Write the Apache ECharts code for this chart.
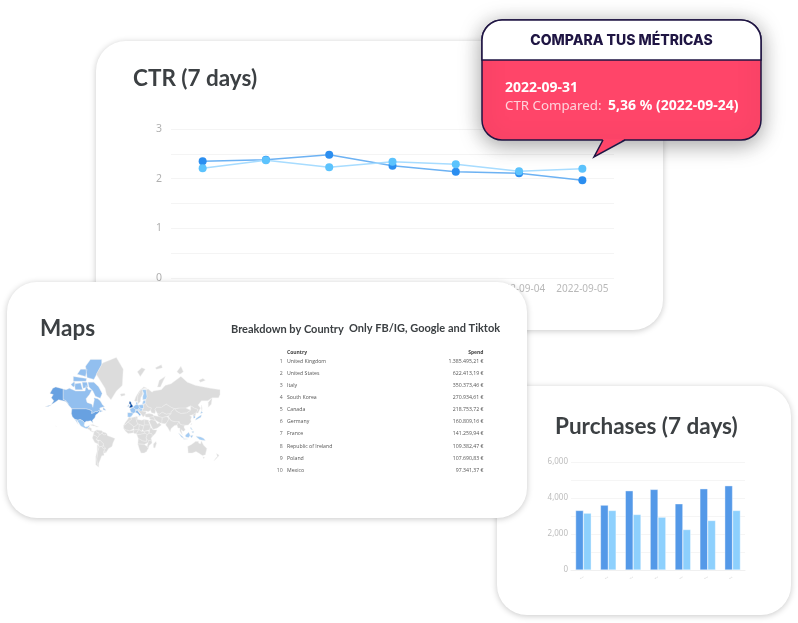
<!DOCTYPE html>
<html>
<head>
<meta charset="utf-8">
<script src="https://cdn.jsdelivr.net/npm/echarts@6/dist/echarts.min.js"></script>
<style>
  html, body { margin: 0; padding: 0; background: #fff; }
  #chart { width: 798px; height: 623px; }
</style>
</head>
<body>
<div id="chart"></div>
<script>
// CTR (7 days)
const ctrDates = ['2022-08-30', '2022-08-31', '2022-09-01', '2022-09-02', '2022-09-03', '2022-09-04', '2022-09-05']
const ctrCurrent = [2.35, 2.38, 2.48, 2.26, 2.14, 2.11, 1.97]
const ctrCompared = [2.21, 2.37, 2.23, 2.34, 2.29, 2.15, 2.2]

// Purchases (7 days)
const purchaseDates = ctrDates
const purchasesCurrent = [3307, 3604, 4403, 4477, 3678, 4514, 4681]
const purchasesCompared = [3158, 3307, 3084, 2935, 2248, 2749, 3307]

// Maps table
const countries = ['United Kingdom', 'United States', 'Italy', 'South Korea', 'Canada', 'Germany', 'France', 'Republic of Ireland', 'Poland', 'Mexico']
const spendValues = [1385495.21, 622413.19, 350373.46, 270934.61, 218753.72, 160809.16, 141259.94, 109382.47, 107690.83, 97341.37]
const spendLabels = ['1.385.495,21 €', '622.413,19 €', '350.373,46 €', '270.934,61 €', '218.753,72 €', '160.809,16 €', '141.259,94 €', '109.382,47 €', '107.690,83 €', '97.341,37 €']

// countries below the top 10 that are still tinted on the map (estimated)
const otherCountries = ['Spain', 'Japan', 'Indonesia', 'New Guinea', 'Finland', 'Baltics', 'Austria', 'Czechia', 'Denmark', 'Philippines']
const otherSpend = [90000, 85000, 60000, 45000, 55000, 50000, 60000, 55000, 50000, 45000]

// rough country outlines, [lon, lat]
const outlines = {
  'Canada': [[[-141,69.6],[-135,69],[-128,70],[-115,68],[-108,68],[-96,68],[-94,72],[-89,69],[-82,69],[-87,65],[-94,61],[-92,57],[-82,55],[-80,51],[-79,55],[-77,60],[-78,62],[-70,61],[-65,59],[-60,54],[-56,52],[-66,50],[-65,47],[-60,46],[-66,44],[-67,47],[-71,45],[-75,45],[-79,43],[-83,42],[-82,46],[-88,48],[-95,49],[-123,49],[-130,54],[-135,59],[-141,60]],
    [[-90,74],[-78,74],[-68,71],[-61,66],[-65,61.5],[-75,63.5],[-80,68],[-88,71]], [[-118,73],[-105,73.5],[-101,69],[-116,69]], [[-92,76.5],[-78,75.5],[-62,81.5],[-62,83],[-85,83],[-95,81]], [[-125,72.5],[-118,74.3],[-116,72],[-120,71]], [[-120,74.5],[-94,74.5],[-93,76],[-120,77]], [[-112,78],[-95,77],[-92,80],[-105,80]], [[-102,74],[-92,74],[-90,71],[-100,70]], [[-59,51],[-53,47],[-59,47.5]]],
  'United States': [[[-123,49],[-95,49],[-88,48],[-82,46],[-83,42],[-79,43],[-75,45],[-71,45],[-67,47],[-67,45],[-70,42],[-74,40],[-76,35],[-81,31],[-80,25],[-82,28],[-85,30],[-90,29],[-94,29],[-97,26],[-101,30],[-106,32],[-111,31],[-117,32.5],[-122,37],[-124,42]],
    [[-141,69.6],[-141,60],[-135,59],[-130,55],[-135,58],[-150,60],[-158,57],[-165,54.5],[-160,59],[-165,62],[-161,65],[-168,66],[-162,70],[-156,71]], [[-178,52],[-165,54],[-170,52.5]], [[-156,20],[-155,19],[-156,19]]],
  'Mexico': [[[-117,32.5],[-111,31],[-106,32],[-101,30],[-97,26],[-98,21],[-95,18],[-91,19],[-87,21.5],[-88,18],[-92,14.5],[-97,16],[-105,20],[-109,26],[-113,31],[-112,27],[-110,23],[-115,30]]],
  'Central America': [[[-92,14.5],[-88,18],[-88,16],[-83,15],[-83,10],[-77.5,8.5],[-80,7.5],[-85,10],[-87.5,13]]],
  'Cuba': [[[-85,22],[-80,23],[-74,20],[-78,20]]],
  'Hispaniola': [[[-74,19.8],[-68.5,18.5],[-74,18]]],
  'Colombia': [[[-77.5,8.5],[-72,12],[-72,7],[-67.5,6],[-67,1],[-70,-4],[-75,0],[-79,1.5]]],
  'Venezuela': [[[-72,12],[-62,10.5],[-60,8],[-61,5],[-67,1],[-67.5,6],[-72,7]]],
  'Guianas': [[[-60,8],[-52,5],[-54,2],[-58,1.5],[-61,5]]],
  'Brazil': [[[-52,5],[-50,0],[-44,-2.5],[-35,-6],[-39,-15],[-41,-22],[-48,-26],[-53,-33.5],[-57.5,-30],[-54,-25.5],[-58,-22],[-58,-17],[-65,-10],[-74,-8],[-70,-4],[-67,1],[-61,5],[-58,1.5],[-54,2]]],
  'Peru': [[[-79,1.5],[-75,0],[-70,-4],[-74,-8],[-69,-11],[-69,-17],[-71,-18],[-76,-14],[-81,-5]]],
  'Bolivia': [[[-69,-11],[-65,-10],[-58,-17],[-58,-20],[-62,-22],[-67,-23],[-69,-17]]],
  'Paraguay': [[[-58,-20],[-58,-22],[-54,-25.5],[-58,-27],[-62,-22]]],
  'Chile': [[[-71,-18],[-69,-17],[-67,-23],[-70,-32],[-72,-45],[-70,-52],[-68,-55],[-74,-52],[-74,-40],[-71,-30]]],
  'Argentina': [[[-67,-23],[-62,-22],[-58,-27],[-54,-25.5],[-57.5,-30],[-58,-34],[-57,-38],[-62,-39],[-65,-45],[-68,-50],[-68,-55],[-70,-52],[-72,-45],[-70,-32]]],
  'Uruguay': [[[-57.5,-30],[-53,-33.5],[-58,-34]]],
  'Greenland': [[[-73,78],[-60,82],[-32,83.5],[-18,80],[-20,72],[-32,68],[-43,60],[-52,65],[-55,70]]],
  'Iceland': [[[-24,65.5],[-15,66],[-14,64.5],[-22,63.5]]],
  'United Kingdom': [[[-5.5,50],[1.5,51],[1.7,53],[-1.5,55.5],[-2,57.5],[-5,58.5],[-6,56],[-3,54],[-5,52]]],
  'Republic of Ireland': [[[-10,52],[-6,52],[-6,55],[-8,55.3]]],
  'France': [[[-4.5,48.5],[2,51],[8,49],[7,44],[3,42.5],[-1.5,43.5]]],
  'Spain': [[[-9,43.5],[-1.5,43.5],[3,42],[0,39],[-2,37],[-5.5,36],[-9,37]]],
  'Germany': [[[2,51],[4,52.5],[8.5,54.5],[14,54],[15,51],[13,48],[8,48],[8,49]]],
  'Italy': [[[7,44],[8,46.5],[13,46.5],[13,45],[18,40],[16,38],[12,42]], [[12.5,38],[15.5,38],[15,36.7]]],
  'Austria': [[[8,48],[13,48],[17,48],[13,46.5],[8,46.5]]],
  'Poland': [[[14,54],[23,54.5],[24,50],[19,49],[15,51]]],
  'Czechia': [[[13,48],[15,51],[19,49],[22,48.5],[21,46],[17,46],[13,46.5],[17,48]]],
  'Balkans': [[[13,46.5],[17,46],[21,46],[29,45],[28,41],[26,41],[23,36.5],[19,41],[14,45]]],
  'Ukraine': [[[24,50],[23,54.5],[28,56],[32,52],[40,50],[38,47],[33,45],[30,46],[29,45],[21,46],[22,48.5]]],
  'Norway': [[[5,59],[8,58],[11,59],[12,64],[18,69],[25,70],[31,70],[24,71],[15,68],[8,63]]],
  'Sweden': [[[11,59],[13,55.5],[17,58],[18,62],[22,65.5],[24,66],[21,69],[18,69],[12,64]]],
  'Finland': [[[21,69],[24,66],[22,63],[22,60],[30,60.5],[31,63],[29,69]]],
  'Baltics': [[[21,55],[23,54.5],[28,56],[28,59.5],[23,59]]],
  'Denmark': [[[8.5,54.5],[12,54.5],[10.5,57.5],[8,57]]],
  'Turkey': [[[26,41],[28,41],[35,42],[42,41],[44,39],[44,37],[36,36],[28,36.5],[26,38]]],
  'Russia': [[[28,56],[28,59.5],[30,60.5],[31,63],[29,69],[33,69.5],[41,67],[44,68],[60,69],[68,72],[80,73],[100,77],[113,74],[130,72],[160,70],[180,69],[180,65],[177,62],[164,62],[162,55],[156,51],[156,57],[164,62],[155,59],[142,59],[135,54],[140,50],[135,43],[131,43],[135,48],[127,50],[120,53],[110,50],[98,50],[87,49],[80,51],[70,55],[60,51],[50,51],[47,48],[48,46],[47,42],[40,43.5],[38,47],[40,50],[32,52]],
    [[52,71],[56,75],[68,77],[58,71]], [[142,54],[143.5,50],[143,46],[142,50]], [[48,80.5],[60,81.5],[62,80.5],[50,80]], [[92,79],[100,81],[105,79],[98,78]], [[137,75],[145,76],[150,75],[140,74]]],
  'Svalbard': [[[11,79],[20,80.5],[27,80],[17,77]]],
  'Kazakhstan': [[[47,48],[50,51],[60,51],[70,55],[80,51],[87,49],[80,45],[80,42],[70,41],[62,44],[56,41],[52,42],[50,45],[48,46]]],
  'Mongolia': [[[87,49],[98,50],[110,50],[120,47],[112,43],[100,42],[92,45]]],
  'China': [[[80,42],[80,45],[87,49],[92,45],[100,42],[112,43],[120,47],[120,53],[127,50],[135,48],[131,43],[124,40],[118,39],[122,37],[120,32],[121,28],[115,22],[108,21.5],[102,22],[98,24],[97,28],[88,28],[80,30],[74,38]]],
  'Central Asia': [[[52,42],[56,41],[62,44],[70,41],[80,42],[74,38],[70,37],[62,35.5],[54,37.5]]],
  'Iran': [[[44,39],[54,37.5],[62,35.5],[61,25],[57,26],[50,30],[46,33],[44,37]]],
  'Pakistan': [[[62,35.5],[70,37],[74,36],[75,32],[70,25],[67,24.5],[61,25]]],
  'India': [[[74,36],[80,30],[88,28],[96,28],[92,22],[87,21],[80,15],[78,8],[73,17],[69,22],[70,25],[75,32]]],
  'Indochina': [[[96,28],[98,24],[102,22],[108,21.5],[106,18],[109,12],[105,9],[100,13],[103,2],[100,6],[98,10],[98,16],[94,16],[92,22]]],
  'Iraq': [[[36,36],[44,37],[46,33],[48,30],[39,32],[36,33]]],
  'Saudi Arabia': [[[35,29],[39,32],[48,30],[52,24],[56,26],[60,22],[52,16],[43,13],[39,21]]],
  'South Korea': [[[126,38],[129,38],[129,35],[126,34.5]]],
  'North Korea': [[[124,40],[131,43],[129,38],[126,38]]],
  'Japan': [[[130,31],[136,34],[141,36],[142,40],[140,41],[136,37],[131,34]], [[140,42],[145,43.5],[142,45.5]]],
  'Taiwan': [[[120,23],[122,25],[121,22]]],
  'Philippines': [[[120,18],[122,18],[124,12],[120,14]], [[122,8],[126,9],[126,6],[123,6.5]]],
  'Indonesia': [[[95,5.5],[104,-2],[106,-6],[101,-3]], [[105,-6.5],[114,-7],[114,-8.5],[106,-7.5]], [[109,1],[116,7],[119,1],[116,-4],[110,-3]], [[119,0],[125,1],[122,-5],[120,-5]]],
  'New Guinea': [[[131,-1],[141,-3],[147,-6],[150,-10],[141,-9],[138,-8],[133,-4]]],
  'Australia': [[[114,-22],[122,-18],[130,-12],[136,-12],[136,-15],[140,-17],[142,-11],[146,-19],[153,-26],[150,-37],[144,-38.5],[138,-35],[131,-31.5],[123,-34],[115,-34]], [[145,-41],[148,-41],[147,-43.5]]],
  'New Zealand': [[[173,-35],[178,-38],[175,-41.5]], [[173,-41],[168,-46.5],[170,-46],[174,-42]]],
  'Madagascar': [[[49,-12],[50,-16],[47,-25],[44,-24],[44,-17]]],
  'Morocco': [[[-6,36],[-2,35],[-1,32],[-8,27.5],[-13,23],[-17,21],[-13,27.5],[-10,31]]],
  'Algeria': [[[-2,35],[8,37],[9,30],[12,24],[6,19],[3,19],[-8,27.5],[-1,32]]],
  'Tunisia': [[[8,37],[11,37],[11,32],[9,30]]],
  'Libya': [[[11,32],[20,31],[25,32],[25,20],[24,19.5],[15,23],[12,24],[9,30]]],
  'Egypt': [[[25,32],[34,31],[34,28],[37,22],[25,22]]],
  'Sudan': [[[25,22],[37,22],[38,18],[36,12],[34,10],[24,9],[22,13],[24,19.5]]],
  'South Sudan': [[[24,9],[34,10],[35,5],[31,2],[27,5]]],
  'Mali': [[[-17,21],[-13,23],[-8,27.5],[3,19],[4,15],[-5,10],[-12,12],[-17,15]]],
  'Niger': [[[3,19],[6,19],[12,24],[15,23],[14,13],[4,12],[4,15]]],
  'Chad': [[[15,23],[24,19.5],[22,13],[19,9],[14,13]]],
  'West Africa': [[[-17,15],[-12,12],[-5,10],[4,12],[3,6],[-4,5],[-8,4.5],[-13,9]]],
  'Nigeria': [[[3,6],[4,12],[14,13],[9,4.5],[5,4.5]]],
  'Cameroon': [[[9,4.5],[14,13],[19,9],[24,9],[27,5],[18,3],[10,2]]],
  'Ethiopia': [[[36,12],[38,18],[43,12],[51,12],[48,5],[41,-2],[41,4],[35,5]]],
  'DR Congo': [[[10,2],[18,3],[27,5],[31,2],[29,-4],[30,-12],[22,-11],[13,-6]]],
  'Tanzania': [[[31,2],[35,5],[41,4],[41,-2],[39,-6],[40,-10.5],[34,-10],[30,-8],[29,-4]]],
  'Angola': [[[13,-6],[22,-11],[30,-12],[30,-8],[34,-10],[33,-14],[25,-18],[12,-17]]],
  'Mozambique': [[[40,-10.5],[41,-15],[35,-20],[33,-26],[31,-22],[33,-14],[34,-10]]],
  'South Africa': [[[12,-17],[25,-18],[31,-22],[33,-26],[30,-31],[25,-34],[18.5,-34],[15,-27]]]
}

const worldGeo = {
  type: 'FeatureCollection',
  features: Object.keys(outlines).map(name => ({
    type: 'Feature',
    properties: { name },
    geometry: { type: 'MultiPolygon', coordinates: outlines[name].map(r => [r.concat([r[0]])]) }
  }))
}
echarts.registerMap('world', worldGeo)

const mercator = {
  project: p => [p[0], -Math.log(Math.tan(Math.PI / 4 + p[1] * Math.PI / 360)) * 180 / Math.PI],
  unproject: p => [p[0], (2 * Math.atan(Math.exp(-p[1] * Math.PI / 180)) - Math.PI / 2) * 180 / Math.PI]
}

const myChart = echarts.init(document.getElementById('chart'))

const ink = '#3c4043'
const titleFont = 'Lato'
const bodyFont = '"Noto Sans"'

function card(x, y, w, h, zlevel) {
  return {
    type: 'rect', zlevel, z: 0,
    shape: { x, y, width: w, height: h, r: 30 },
    style: { fill: '#fff', shadowBlur: 6, shadowColor: 'rgba(0,0,0,0.22)', shadowOffsetY: 1 }
  }
}

function label(text, x, y, font, fill, zlevel, align) {
  return {
    type: 'text', zlevel, z: 3,
    style: { text, x, y, font, fill, textAlign: align || 'left', textVerticalAlign: 'middle' }
  }
}

const elements = [
  card(96, 41, 567, 289, 0),
  label('CTR (7 days)', 133, 79, '700 22.5px ' + titleFont, ink, 0),

  card(497, 386, 294, 229, 1),
  label('Purchases (7 days)', 555, 427, '700 22.5px ' + titleFont, ink, 1),

  card(7, 282, 520, 236, 2),
  label('Maps', 40, 329, '700 22.5px ' + titleFont, ink, 2),
  label('Breakdown by Country', 231, 329, '700 11px ' + titleFont, ink, 2),
  label('Only FB/IG, Google and Tiktok', 349, 328, '700 11px ' + titleFont, ink, 2),
  label('Country', 287, 353, '700 5px "Open Sans"', '#444', 2),
  label('Spend', 483.5, 353, '700 5px "Open Sans"', '#444', 2, 'right')
]

countries.forEach((name, i) => {
  const y = 361.7 + i * 12.05
  elements.push(label(String(i + 1), 282.7, y, '5.2px "Open Sans"', '#666', 2, 'right'))
  elements.push(label(name, 287, y, '5.2px "Open Sans"', '#555', 2))
  elements.push(label(spendLabels[i], 483.5, y, '5.2px "Open Sans"', '#555', 2, 'right'))
})

// callout on top of everything
const calloutInk = '#1f1543'
elements.push(
  {
    type: 'rect', zlevel: 3, z: 0,
    shape: { x: 482, y: 20, width: 279, height: 120, r: 20 },
    style: { fill: '#ff4569', stroke: calloutInk, lineWidth: 1.5, shadowBlur: 22, shadowColor: 'rgba(0,0,0,0.38)', shadowOffsetY: 4 }
  },
  {
    type: 'polygon', zlevel: 3, z: 1,
    shape: { points: [[603, 139], [594, 157], [625, 139]] },
    style: { fill: '#ff4569' }
  },
  {
    type: 'polyline', zlevel: 3, z: 1,
    shape: { points: [[603, 140], [594, 157], [625, 140]] },
    style: { fill: 'none', stroke: calloutInk, lineWidth: 1.5 }
  },
  {
    type: 'rect', zlevel: 3, z: 1,
    shape: { x: 482, y: 20, width: 279, height: 40, r: [20, 20, 0, 0] },
    style: { fill: '#fff', stroke: calloutInk, lineWidth: 1.5 }
  },
  label('COMPARA TUS MÉTRICAS', 621.5, 41, '800 14px Inter', calloutInk, 3, 'center'),
  label('2022-09-31', 505, 88, '700 14px ' + bodyFont, '#fff', 3),
  label('CTR Compared:', 505, 106.5, '400 13.3px ' + bodyFont, '#ffd3db', 3),
  label('5,36 % (2022-09-24)', 608, 106.5, '700 14px ' + bodyFont, '#fff', 3)
)

const mapData = countries.map((name, i) => ({ name, value: spendValues[i] }))
  .concat(otherCountries.map((name, i) => ({ name, value: otherSpend[i] })))

const option = {
  animation: false,
  graphic: { elements },
  grid: [
    { left: 171, top: 129, width: 443, height: 149 },
    { left: 571, top: 462, width: 174, height: 108 }
  ],
  xAxis: [
    {
      type: 'category', gridIndex: 0, data: ctrDates, zlevel: 0, z: 1,
      axisLine: { show: false }, axisTick: { show: false },
      axisLabel: { color: '#b9b9b9', fontSize: 10, margin: 6, fontFamily: bodyFont, interval: 0 }
    },
    {
      type: 'category', gridIndex: 1, data: purchaseDates, zlevel: 1, z: 1,
      axisLine: { lineStyle: { color: '#f0f0f0' } }, axisTick: { show: false },
      axisLabel: { color: '#b4b4b4', fontSize: 1.5, rotate: 30, margin: 7, interval: 0, formatter: v => v.slice(5) }
    }
  ],
  yAxis: [
    {
      type: 'value', gridIndex: 0, min: 0, max: 3, interval: 0.5, zlevel: 0, z: 1,
      axisLine: { show: false }, axisTick: { show: false },
      axisLabel: { color: '#b0b0b0', fontSize: 10.5, margin: 9, padding: [2, 0, 0, 0], fontFamily: bodyFont, formatter: v => (v % 1 === 0 ? v : '') },
      splitLine: { lineStyle: { color: '#f4f4f4' } }
    },
    {
      type: 'value', gridIndex: 1, min: 0, max: 6000, interval: 1000, zlevel: 1, z: 1,
      axisLine: { show: false }, axisTick: { show: false },
      axisLabel: { color: '#bdbdbd', fontSize: 8, margin: 3, padding: [2, 0, 0, 0], fontFamily: bodyFont, formatter: v => (v % 2000 === 0 ? v.toLocaleString('en-US') : '') },
      splitLine: { lineStyle: { color: '#f5f5f5' } }
    }
  ],
  visualMap: {
    show: false, seriesIndex: 4, min: 40000, max: 1385495,
    inRange: { color: ['#a4cdf5', '#5f9ade', '#0b4ea6'] }
  },
  series: [
    {
      type: 'line', name: 'CTR', xAxisIndex: 0, yAxisIndex: 0, data: ctrCurrent, zlevel: 0, z: 2,
      symbol: 'circle', symbolSize: 8, silent: true,
      itemStyle: { color: '#2b8ef0' }, lineStyle: { color: '#6db2f3', width: 1.5 }
    },
    {
      type: 'line', name: 'CTR Compared', xAxisIndex: 0, yAxisIndex: 0, data: ctrCompared, zlevel: 0, z: 3,
      symbol: 'circle', symbolSize: 8, silent: true,
      itemStyle: { color: '#5cc3fd' }, lineStyle: { color: '#a7dcff', width: 1.5 }
    },
    {
      type: 'bar', name: 'Purchases', xAxisIndex: 1, yAxisIndex: 1, data: purchasesCurrent, zlevel: 1, z: 2,
      barGap: '0%', barCategoryGap: '37%', silent: true,
      itemStyle: { color: '#5499e8', borderColor: '#fff', borderWidth: 0.4 }
    },
    {
      type: 'bar', name: 'Purchases Compared', xAxisIndex: 1, yAxisIndex: 1, data: purchasesCompared, zlevel: 1, z: 2,
      silent: true,
      itemStyle: { color: '#8dd0fd', borderColor: '#fff', borderWidth: 0.4 }
    },
    {
      type: 'map', map: 'world', projection: mercator, data: mapData, zlevel: 2, z: 2,
      left: 44, top: 357, width: 176, height: 111,
      boundingCoords: [[-180, 83.6], [180, -56]],
      silent: true, roam: false,
      label: { show: false },
      itemStyle: { areaColor: '#dcdcdc', borderColor: '#f0f0f0', borderWidth: 0.4 }
    }
  ]
}
myChart.setOption(option)
</script>
</body>
</html>
